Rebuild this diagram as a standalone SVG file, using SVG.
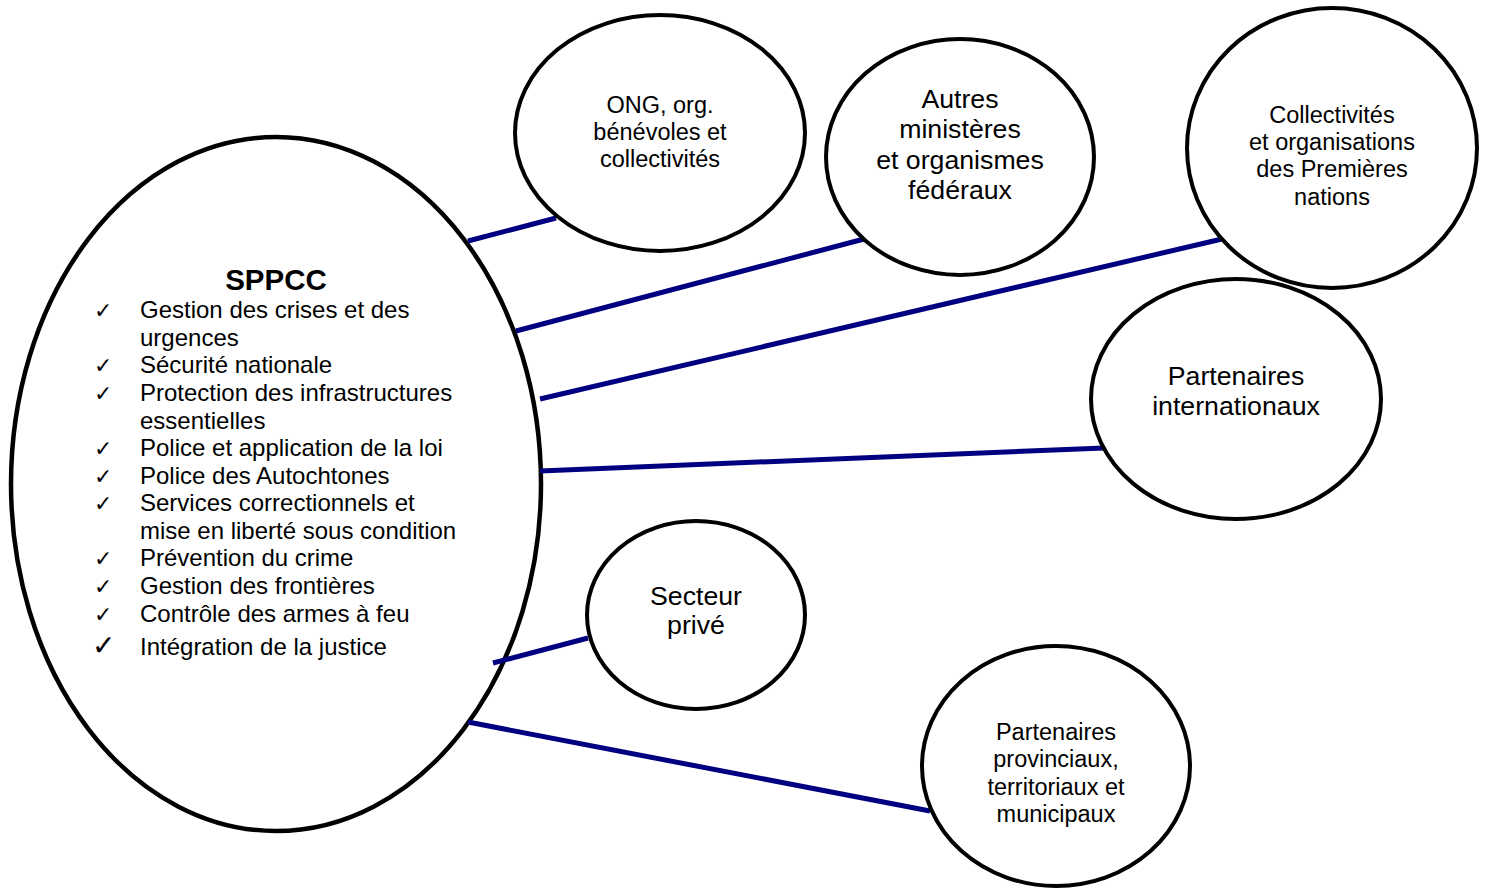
<svg xmlns="http://www.w3.org/2000/svg" width="1488" height="890" viewBox="0 0 1488 890">
<style>
.node{fill:#fff;stroke:#000;stroke-width:4}
.link{stroke:#000080;stroke-width:5;fill:none}
text{font-family:"Liberation Sans",Arial,sans-serif;fill:#000}
.t20{font-size:23.5px;text-anchor:middle}
.t24{font-size:26.7px;text-anchor:middle}
.li{font-size:24px}
.ck{font-family:"DejaVu Sans",sans-serif;font-size:22px}
</style>
<rect width="1488" height="890" fill="#fff"/>
<g id="main">
<ellipse class="node" cx="276" cy="484" rx="265" ry="347" style="stroke-width:4.5"/>
<text x="276" y="290" style="font-size:29.5px;font-weight:bold;text-anchor:middle">SPPCC</text>
<g class="ck">
<text x="94" y="318">✓</text>
<text x="94" y="373">✓</text>
<text x="94" y="401">✓</text>
<text x="94" y="456">✓</text>
<text x="94" y="484">✓</text>
<text x="94" y="511">✓</text>
<text x="94" y="566">✓</text>
<text x="94" y="594">✓</text>
<text x="94" y="622">✓</text>
<text x="92" y="655" style="font-size:28px">✓</text>
</g>
<g class="li">
<text x="140" y="318">Gestion des crises et des</text>
<text x="140" y="346">urgences</text>
<text x="140" y="373">Sécurité nationale</text>
<text x="140" y="401">Protection des infrastructures</text>
<text x="140" y="429">essentielles</text>
<text x="140" y="456">Police et application de la loi</text>
<text x="140" y="484">Police des Autochtones</text>
<text x="140" y="511">Services correctionnels et</text>
<text x="140" y="539">mise en liberté sous condition</text>
<text x="140" y="566">Prévention du crime</text>
<text x="140" y="594">Gestion des frontières</text>
<text x="140" y="622">Contrôle des armes à feu</text>
<text x="140" y="655">Intégration de la justice</text>
</g>
</g>
<g id="connectors">
<line class="link" x1="468" y1="241" x2="556" y2="218"/>
<line class="link" x1="516" y1="331" x2="864" y2="239"/>
<line class="link" x1="540" y1="399" x2="1222" y2="239"/>
<line class="link" x1="540" y1="471" x2="1104" y2="448"/>
<line class="link" x1="493" y1="663" x2="588" y2="638"/>
<line class="link" x1="468" y1="722" x2="930" y2="811"/>
</g>
<g id="ong">
<ellipse class="node" cx="660" cy="133" rx="145" ry="118"/>
<text class="t20" x="660" y="113">ONG, org.</text>
<text class="t20" x="660" y="140">bénévoles et</text>
<text class="t20" x="660" y="167">collectivités</text>
</g>
<g id="autres">
<ellipse class="node" cx="960" cy="157" rx="134" ry="118"/>
<text class="t24" x="960" y="108">Autres</text>
<text class="t24" x="960" y="138">ministères</text>
<text class="t24" x="960" y="169">et organismes</text>
<text class="t24" x="960" y="199">fédéraux</text>
</g>
<g id="premieres-nations">
<ellipse class="node" cx="1332" cy="148" rx="145" ry="140"/>
<text class="t20" x="1332" y="123">Collectivités</text>
<text class="t20" x="1332" y="150">et organisations</text>
<text class="t20" x="1332" y="177">des Premières</text>
<text class="t20" x="1332" y="205">nations</text>
</g>
<g id="internationaux">
<ellipse class="node" cx="1236" cy="399" rx="145" ry="120"/>
<text class="t24" x="1236" y="385">Partenaires</text>
<text class="t24" x="1236" y="415">internationaux</text>
</g>
<g id="prive">
<ellipse class="node" cx="696" cy="615" rx="109" ry="94"/>
<text class="t24" x="696" y="605">Secteur</text>
<text class="t24" x="696" y="634">privé</text>
</g>
<g id="provinciaux">
<ellipse class="node" cx="1056" cy="766" rx="134" ry="120"/>
<text class="t20" x="1056" y="740">Partenaires</text>
<text class="t20" x="1056" y="767">provinciaux,</text>
<text class="t20" x="1056" y="795">territoriaux et</text>
<text class="t20" x="1056" y="822">municipaux</text>
</g>
</svg>
